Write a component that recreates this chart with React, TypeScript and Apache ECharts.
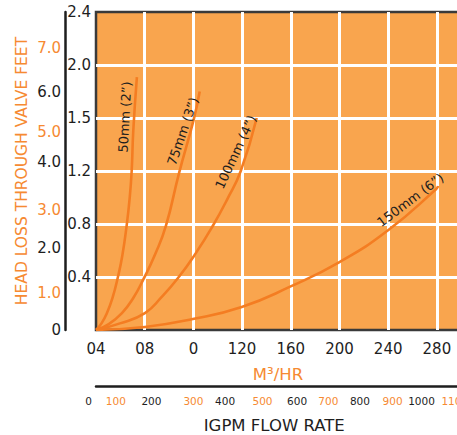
import React, { useEffect, useRef } from "react";
import * as echarts from "echarts";

// Flow (m³/hr) vs head loss (grid units of the inner scale)
const curve50: [number, number][] = [
  [0, 0], [4.5, 0.05], [9.0, 0.128], [13.5, 0.24], [18.0, 0.4], [21.6, 0.56], [25.2, 0.79], [27.5, 0.98], [29.3, 1.2], [30.6, 1.5], [33.6, 1.909],
];
const curve75: [number, number][] = [
  [0, 0], [10.5, 0.045], [21.3, 0.128], [30.5, 0.24], [39.3, 0.39], [48.5, 0.57], [57.4, 0.785], [68.0, 1.177], [80.3, 1.59], [85.2, 1.8],
];
const curve100: [number, number][] = [
  [0, 0], [19.7, 0.05], [40.2, 0.128], [54.0, 0.25], [67.2, 0.39], [82.0, 0.58], [95.9, 0.785], [108.0, 0.99], [118.9, 1.2], [132.0, 1.6],
];
const curve150: [number, number][] = [
  [0, 0], [40.2, 0.023], [79.5, 0.083], [119.7, 0.174], [159.0, 0.325], [200.0, 0.513], [240.2, 0.755], [279.5, 1.064], [281.0, 1.087],
];
const seriesNames = ["50mm (2”)", "75mm (3”)", "100mm (4”)", "150mm (6”)"];
// label anchor (data coords) and rotation for each curve label
const labelAt: [number, number][] = [[23.8, 1.607], [71.3, 1.5], [114.8, 1.343], [258.2, 0.981]];
const labelRotate = [87, 71, 65, 37];

const xTickLabels = ["04", "08", "0", "120", "160", "200", "240", "280"];
const yTickLabels = ["", "0.4", "0.8", "1.2", "1.5", "2.0", "2.4"];
const feetTickAt = [0, 0.92, 2.03, 2.97, 4.16, 4.9, 5.89, 6.98];
const feetTickLabels = ["0", "1.0", "2.0", "3.0", "4.0", "5.0", "6.0", "7.0"];
const igpmTickAt = [0, 84, 193, 322, 419, 534, 640, 736, 833, 933, 1022, 1124];
const igpmTickLabels = ["0", "100", "200", "300", "400", "500", "600", "700", "800", "900", "1000", "1100"];

const ORANGE_BG = "#F9A54E";
const ORANGE_TXT = "#F68A32";
const ORANGE_LINE = "#F47D22";
const DARK = "#1e1e1e";
const FONT = "DejaVu Sans";

export default function App() {
  const ref = useRef<HTMLDivElement>(null);
  useEffect(() => {
    if (!ref.current) return;
    const chart = echarts.init(ref.current, undefined, { renderer: "svg" });
    const curves = [curve50, curve75, curve100, curve150];
    const idxOf = (arr: number[], v: number) => arr.findIndex((a) => Math.abs(a - v) < 1e-6);
    chart.setOption({
      animation: false,
      textStyle: { fontFamily: FONT },
      grid: [
        { left: 96, right: -3, top: 12, height: 318, show: true, backgroundColor: ORANGE_BG, borderColor: "#3a3a3a", borderWidth: 2.5, outerBoundsMode: "none", containLabel: false },
        { left: 88.5, right: -3, top: 12, height: 374, show: false, outerBoundsMode: "none", containLabel: false },
      ],
      xAxis: [
        {
          type: "value", gridIndex: 0, min: 0, max: 299, interval: 40, position: "bottom",
          axisLine: { show: false, onZero: false }, axisTick: { show: false },
          splitLine: { show: true, showMinLine: false, showMaxLine: false, lineStyle: { color: "#fff", width: 3 } },
          axisLabel: {
            margin: 11, fontSize: 15, color: DARK, fontFamily: FONT,
            formatter: (v: number) => (Math.abs(v % 40) < 1e-6 ? xTickLabels[Math.round(v / 40)] ?? "" : ""),
          },
          name: "M³/HR", nameLocation: "middle", nameGap: 36, nameMoveOverlap: false,
          nameTextStyle: { color: ORANGE_TXT, fontSize: 16.5, fontFamily: FONT },
        },
        {
          type: "value", gridIndex: 0, min: 0, max: 299, position: "bottom", offset: 56,
          axisLine: { show: true, onZero: false, lineStyle: { color: DARK, width: 2.5 } },
          axisTick: { show: false }, axisLabel: { show: false }, splitLine: { show: false },
        },
        {
          type: "value", gridIndex: 1, min: 0, max: 1140, position: "bottom",
          axisLine: { show: false, onZero: false }, axisTick: { show: false }, splitLine: { show: false },
          axisLabel: {
            customValues: igpmTickAt, margin: 9, fontSize: 10.5, fontFamily: FONT, hideOverlap: false,
            formatter: (v: number) => {
              const i = idxOf(igpmTickAt, v);
              if (i < 0) return "";
              return `{${i % 2 ? "o" : "k"}|${igpmTickLabels[i]}}`;
            },
            rich: {
              k: { color: DARK, fontSize: 10.5, fontFamily: FONT },
              o: { color: ORANGE_TXT, fontSize: 10.5, fontFamily: FONT },
            },
          },
          name: "IGPM FLOW RATE", nameLocation: "middle", nameGap: 31, nameMoveOverlap: false,
          nameTextStyle: { color: DARK, fontSize: 16.5, fontFamily: FONT },
        },
      ],
      yAxis: [
        {
          type: "value", gridIndex: 0, min: 0, max: 2.4, interval: 0.4, position: "left",
          axisLine: { show: false, onZero: false }, axisTick: { show: false },
          splitLine: { show: true, showMinLine: false, showMaxLine: false, lineStyle: { color: "#fff", width: 3 } },
          axisLabel: {
            margin: 5, fontSize: 15, color: DARK, fontFamily: FONT,
            formatter: (v: number) => yTickLabels[Math.round(v / 0.4)] ?? "",
          },
        },
        {
          type: "value", gridIndex: 0, min: 0, max: 7.872, position: "left", offset: 31,
          axisLine: { show: true, onZero: false, lineStyle: { color: DARK, width: 2.5 } },
          axisTick: { show: false }, splitLine: { show: false },
          axisLabel: {
            customValues: feetTickAt, margin: 4, fontSize: 15, fontFamily: FONT,
            formatter: (v: number) => {
              const i = idxOf(feetTickAt, v);
              if (i < 0) return "";
              return `{${i % 2 ? "o" : "k"}|${feetTickLabels[i]}}`;
            },
            rich: {
              k: { color: DARK, fontSize: 15, fontFamily: FONT },
              o: { color: ORANGE_TXT, fontSize: 15, fontFamily: FONT },
            },
          },
          name: "HEAD LOSS THROUGH VALVE FEET", nameLocation: "middle", nameGap: 35, nameRotate: 90, nameMoveOverlap: false,
          nameTextStyle: { color: ORANGE_TXT, fontSize: 15.5, fontFamily: FONT },
        },
        { type: "value", gridIndex: 1, show: false, min: 0, max: 1 },
      ],
      series: curves.map((c, i) => ({
        type: "line", name: seriesNames[i], xAxisIndex: 0, yAxisIndex: 0,
        data: c, smooth: 0.5, showSymbol: false, symbol: "none",
        lineStyle: { color: ORANGE_LINE, width: 2.6 },
        markPoint: {
          symbol: "circle", symbolSize: 0, silent: true,
          data: [{ coord: labelAt[i] }],
          label: {
            show: true, position: "inside", rotate: labelRotate[i],
            formatter: seriesNames[i], color: DARK, fontSize: 13, fontFamily: FONT,
          },
        },
      })),
    });
    return () => chart.dispose();
  }, []);
  return <div ref={ref} style={{ position: "absolute", left: 0, top: 0, width: 457, height: 435 }} />;
}
